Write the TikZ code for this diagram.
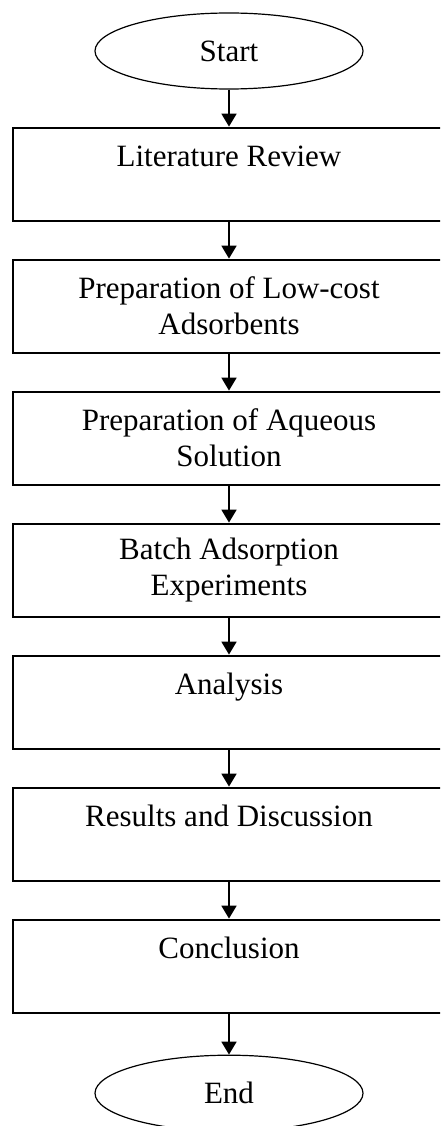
\documentclass[tikz,border=0pt]{standalone}
\usepackage{fontspec}
\setmainfont{Liberation Serif}
\usetikzlibrary{arrows.meta,shapes,positioning}
\tikzstyle{edge}=[
	-{Triangle[width=15pt,length=13pt]},
	draw=black,
	line width=1.8pt
]
\tikzstyle{terminal}=[
	ellipse,
	draw=black,
	line width=1.2pt,
	minimum width=268pt,
	minimum height=76pt,
	inner sep=0pt,
	font=\fontsize{31}{36}\selectfont
]
\tikzstyle{stepbox}=[
	rectangle,
	draw=black,
	line width=2pt,
	minimum width=432pt,
	minimum height=93pt,
	align=center,
	font=\fontsize{31}{36}\selectfont
]

\begin{document}
\begin{tikzpicture}[x=1pt, y=1pt, node distance=37pt]
\useasboundingbox (0,0) rectangle (440,-1126);
\clip (0,0) rectangle (440,-1126);
\node[terminal] (start) at (229,-51) {Start};
\node[stepbox, below=of start] (lit) {Literature Review\\\mbox{}};
\node[stepbox, below=of lit] (prep) {Preparation of Low-cost\\Adsorbents};
\node[stepbox, below=of prep] (aq) {Preparation of Aqueous\\Solution};
\node[stepbox, below=of aq] (batch) {Batch Adsorption\\Experiments};
\node[stepbox, below=of batch] (anal) {Analysis\\\mbox{}};
\node[stepbox, below=of anal] (res) {Results and Discussion\\\mbox{}};
\node[stepbox, below=of res] (concl) {Conclusion\\\mbox{}};
\node[terminal, below=41pt of concl] (end) {End};

\draw[edge] (start) to (lit);
\draw[edge] (lit) to (prep);
\draw[edge] (prep) to (aq);
\draw[edge] (aq) to (batch);
\draw[edge] (batch) to (anal);
\draw[edge] (anal) to (res);
\draw[edge] (res) to (concl);
\draw[edge] (concl) to (end);
\end{tikzpicture}
\end{document}
